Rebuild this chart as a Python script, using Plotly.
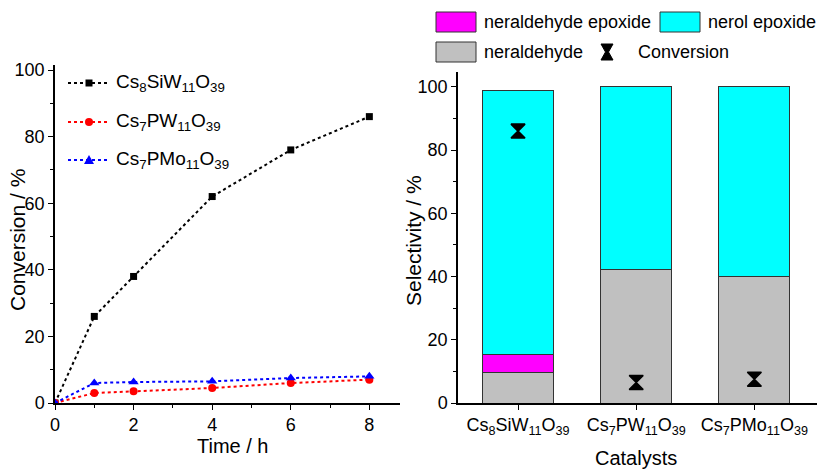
import plotly.graph_objects as go

time_h = [0, 1, 2, 4, 6, 8]
conv_siw = [0, 26, 38, 62, 76, 86]
conv_pw = [0, 3, 3.5, 4.5, 6, 7]
conv_pmo = [0, 6, 6.3, 6.5, 7.5, 8]

catalysts = ["Cs<sub>8</sub>SiW<sub>11</sub>O<sub>39</sub>",
             "Cs<sub>7</sub>PW<sub>11</sub>O<sub>39</sub>",
             "Cs<sub>7</sub>PMo<sub>11</sub>O<sub>39</sub>"]
sel_neraldehyde = [9.5, 42.3, 40]
sel_neraldehyde_epoxide = [6, 0, 0]
sel_nerol_epoxide = [83.5, 57.7, 60]
conversion_8h = [86, 6.5, 7.5]

NARROW = "Liberation Sans Narrow, Arial Narrow, Liberation Sans, Arial"
REG = "Liberation Sans, Arial"
W, H = 817, 470


def X(px):
    return px / W


def Y(py):
    return 1 - py / H


fig = go.Figure()

series = [
    (catalysts[0], conv_siw, "black", "square", 7),
    (catalysts[1], conv_pw, "red", "circle", 8),
    (catalysts[2], conv_pmo, "blue", "triangle-up", 9),
]
for name, ys, col, sym, sz in series:
    fig.add_trace(go.Scatter(
        x=time_h, y=ys, name=name, mode="lines+markers", showlegend=False,
        line=dict(color=col, dash="dot", width=2),
        marker=dict(color=col, symbol=sym, size=sz),
        xaxis="x", yaxis="y"))

bar_series = [
    ("neraldehyde", sel_neraldehyde, "#c0c0c0"),
    ("neraldehyde epoxide", sel_neraldehyde_epoxide, "#ff00ff"),
    ("nerol epoxide", sel_nerol_epoxide, "#00ffff"),
]
for name, ys, col in bar_series:
    fig.add_trace(go.Bar(x=catalysts, y=ys, name=name, showlegend=False,
                         marker=dict(color=col, line=dict(color="#333333", width=1)),
                         xaxis="x2", yaxis="y2"))
fig.add_trace(go.Scatter(x=catalysts, y=conversion_8h, name="Conversion", mode="markers",
                         showlegend=False,
                         marker=dict(color="black", symbol="hourglass", size=14,
                                     line=dict(color="black", width=1.5)),
                         xaxis="x2", yaxis="y2"))

axis_common = dict(showline=True, linecolor="black", linewidth=1.5, ticks="outside",
                   ticklen=5, tickcolor="black", showgrid=False, zeroline=False,
                   automargin=False, tickangle=0,
                   tickfont=dict(family=NARROW, size=18, color="black"))
minor_y = dict(tickvals=[10, 30, 50, 70, 90], ticks="outside", ticklen=3, tickcolor="black")

fig.update_layout(
    width=W, height=H,
    margin=dict(l=0, r=0, t=0, b=0, autoexpand=False),
    paper_bgcolor="white", plot_bgcolor="white",
    barmode="stack", bargap=0.4, showlegend=False,
    xaxis=dict(domain=[X(55), X(400)], range=[0, 8.78], tickvals=[0, 2, 4, 6, 8],
               minor=dict(tickvals=[1, 3, 5, 7], ticks="outside", ticklen=3, tickcolor="black"),
               anchor="y", **axis_common),
    yaxis=dict(domain=[Y(403), Y(65)], range=[0, 101.5], tickvals=[0, 20, 40, 60, 80, 100],
               minor=minor_y, anchor="x", **axis_common),
    xaxis2=dict(domain=[X(458), 1.0], range=[-0.508, 2.53], anchor="y2", **axis_common),
    yaxis2=dict(domain=[Y(403), Y(72)], range=[0, 104.7], tickvals=[0, 20, 40, 60, 80, 100],
                minor=minor_y, anchor="x2", **axis_common),
)

# axis titles
titles = [
    ("Time / h", 233, 446, 0, NARROW, 20),
    ("Catalysts", 636, 458, 0, NARROW, 20),
    ("Conversion / %", 18, 240, -90, REG, 21),
    ("Selectivity / %", 413, 241, -90, REG, 21),
]
for text, px, py, ang, fam, sz in titles:
    fig.add_annotation(text=text, x=X(px), y=Y(py), xref="paper", yref="paper",
                       xanchor="center", yanchor="middle", showarrow=False, textangle=ang,
                       font=dict(family=fam, size=sz, color="black"))

shapes = []
# left legend (conversion vs time)
leg_rows = [83, 122, 160]
for (name, ys, col, sym, sz), ry in zip(series, leg_rows):
    shapes.append(dict(type="line", xref="paper", yref="paper", x0=X(68), x1=X(110),
                       y0=Y(ry), y1=Y(ry), line=dict(color=col, dash="dot", width=2)))
    cx = 89
    if sym == "square":
        shapes.append(dict(type="rect", xref="paper", yref="paper", x0=X(cx - 3.5), x1=X(cx + 3.5),
                           y0=Y(ry + 3.5), y1=Y(ry - 3.5), fillcolor=col, line=dict(width=0)))
    elif sym == "circle":
        shapes.append(dict(type="circle", xref="paper", yref="paper", x0=X(cx - 4), x1=X(cx + 4),
                           y0=Y(ry + 4), y1=Y(ry - 4), fillcolor=col, line=dict(width=0)))
    else:
        path = f"M {X(cx-5)} {Y(ry+4)} L {X(cx+5)} {Y(ry+4)} L {X(cx)} {Y(ry-5)} Z"
        shapes.append(dict(type="path", xref="paper", yref="paper", path=path,
                           fillcolor=col, line=dict(width=0)))
    fig.add_annotation(text=name, x=X(114), y=Y(ry), xref="paper", yref="paper",
                       xanchor="left", yanchor="middle", showarrow=False,
                       font=dict(family=NARROW, size=19, color="black"))

# right legend (selectivity)
boxes = [
    ("neraldehyde epoxide", "#ff00ff", 436, 22),
    ("nerol epoxide", "#00ffff", 660, 22),
    ("neraldehyde", "#c0c0c0", 436, 52),
]
for name, col, bx, ry in boxes:
    shapes.append(dict(type="rect", xref="paper", yref="paper", x0=X(bx), x1=X(bx + 40),
                       y0=Y(ry + 10), y1=Y(ry - 10), fillcolor=col,
                       line=dict(color="#333333", width=1)))
    fig.add_annotation(text=name, x=X(bx + 46), y=Y(ry), xref="paper", yref="paper",
                       xanchor="left", yanchor="middle", showarrow=False,
                       font=dict(family=REG, size=18, color="black"))
hx, hy = 607, 52
hpath = (f"M {X(hx-6)} {Y(hy-8)} L {X(hx+6)} {Y(hy-8)} L {X(hx+1.5)} {Y(hy)} "
         f"L {X(hx+6)} {Y(hy+8)} L {X(hx-6)} {Y(hy+8)} L {X(hx-1.5)} {Y(hy)} Z")
shapes.append(dict(type="path", xref="paper", yref="paper", path=hpath,
                   fillcolor="black", line=dict(color="black", width=1)))
fig.add_annotation(text="Conversion", x=X(636), y=Y(52), xref="paper", yref="paper",
                   xanchor="left", yanchor="middle", showarrow=False,
                   font=dict(family=REG, size=18, color="black"))

fig.update_layout(shapes=shapes)

fig.write_html("out.html")
